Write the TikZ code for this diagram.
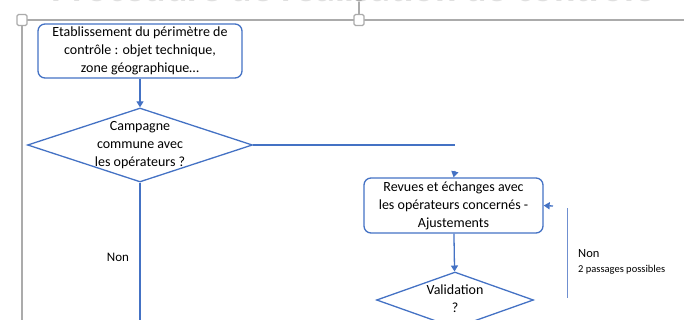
\documentclass[tikz,border=0pt]{standalone}
\usepackage{fontspec}
\setmainfont{Carlito}
\usetikzlibrary{shapes.geometric,arrows.meta}

\definecolor{flowblue}{HTML}{4472C4}
\definecolor{loopblue}{HTML}{6F8FD0}
\definecolor{framegray}{HTML}{ABABAB}

\begin{document}
\begin{tikzpicture}[x=1pt,y=-1pt,>={Triangle[length=6pt,width=7pt]},
    box/.style={draw=flowblue,rounded corners=7pt,line width=1.3pt,align=center,
      inner sep=0pt,font=\fontsize{14}{18}\selectfont},
    choice/.style={draw=flowblue,shape=diamond,inner sep=0pt,line width=1.3pt},
    txt/.style={align=center,font=\fontsize{14}{18}\selectfont},
    link/.style={draw=flowblue,line width=1.3pt},
    handle/.style={draw=framegray,fill=white,rounded corners=1.5pt,line width=1.3pt,
      minimum width=10pt,minimum height=11pt,inner sep=0pt}]
  \useasboundingbox (0,0) rectangle (684,320);
  \clip (0,0) rectangle (684,320);

  % titre, coupe en haut
  \node[anchor=base west,text=gray!25,font=\fontsize{40}{40}\bfseries\selectfont]
    (titre) at (48,1.5) {Procédure de réalisation de contrôle};

  % cadre de selection
  \draw[framegray,line width=1.8pt] (22,20) -- (684,20);
  \draw[framegray,line width=1.8pt] (22,20) -- (22,320);
  \node[draw=framegray,fill=white,circle,minimum size=8pt,inner sep=0pt,line width=1.2pt]
    (pivot) at (359,-3) {};
  \draw[framegray,line width=1.2pt] (pivot) -- (359,20);
  \node[handle] (poignee1) at (22,20) {};
  \node[handle] (poignee2) at (359,20) {};

  % boites
  \node[box,minimum width=204pt,minimum height=54pt] (etab) at (140,51)
    {Etablissement du périmètre de\\contrôle : objet technique,\\zone géographique…};
  \node[choice,minimum width=225pt,minimum height=74pt] (campagne) at (140,145) {};
  \node[txt] (campagnetxt) at (140,145) {Campagne\\commune avec\\les opérateurs ?};
  \node[box,minimum width=179pt,minimum height=55pt] (revues) at (453.5,205.5)
    {Revues et échanges avec\\les opérateurs concernés -\\Ajustements};
  \node[choice,minimum width=157pt,minimum height=56pt] (validation) at (455,300) {};
  \node[txt] (validationtxt) at (455,299) {Validation\\?};

  % liens
  \coordinate (coude) at (455,145);
  \coordinate (bas) at (140,320);
  \coordinate (entree) at (455,171);
  \coordinate (retour) at (553,206);
  \coordinate (boucleh) at (567,208);
  \coordinate (boucleb) at (567,298);
  \draw[link,->] (etab) -- (campagne);
  \draw[link] (campagne.east) -- (coude);
  \draw[link] (campagne.south) -- (bas);
  \draw[link,->] (entree) -- (revues.north);
  \draw[link,->] (revues) -- (validation);
  \draw[link,->] (retour) -- (revues.east);
  \draw[loopblue,line width=1pt] (boucleh) -- (boucleb);

  % etiquettes
  \node[font=\fontsize{13}{14}\selectfont] (non1) at (118,257) {Non};
  \node[anchor=west,font=\fontsize{12.5}{14}\selectfont,inner sep=0pt] (non2) at (578,254) {Non};
  \node[anchor=west,font=\fontsize{10.5}{12}\selectfont,inner sep=0pt] (passages) at (578,270)
    {2 passages possibles};
\end{tikzpicture}
\end{document}
